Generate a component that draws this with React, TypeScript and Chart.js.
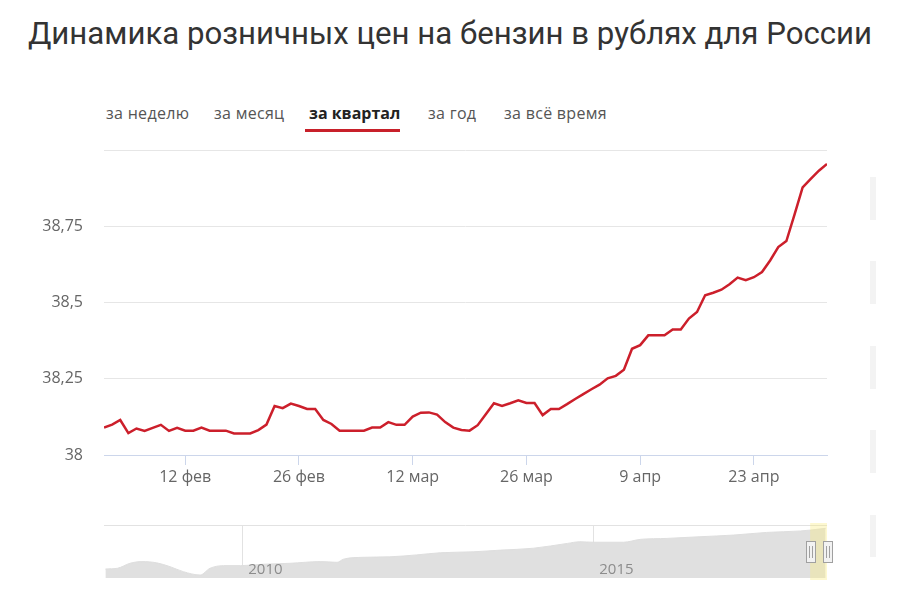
import React, { useEffect, useRef } from "react";
import { Chart, registerables } from "chart.js";

Chart.register(...registerables);

// ---- Main chart data (quarter: 2 Feb – 2 May) ----
// x = day offset from 12 February
const startDay = -10;
const prices = [
  38.09, 38.1, 38.115, 38.072, 38.087, 38.079, 38.089, 38.099, 38.079, 38.089,
  38.08, 38.08, 38.09, 38.08, 38.08, 38.08, 38.071, 38.071, 38.071, 38.082,
  38.1, 38.161, 38.154, 38.169, 38.161, 38.151, 38.151, 38.115, 38.102, 38.08,
  38.08, 38.08, 38.08, 38.09, 38.09, 38.108, 38.099, 38.099, 38.126, 38.139,
  38.14, 38.133, 38.108, 38.09, 38.082, 38.08, 38.098, 38.134, 38.17, 38.161,
  38.17, 38.18, 38.171, 38.171, 38.131, 38.151, 38.151, 38.167, 38.184, 38.2,
  38.216, 38.231, 38.252, 38.26, 38.28, 38.349, 38.361, 38.393, 38.393, 38.393,
  38.412, 38.412, 38.448, 38.47, 38.525, 38.533, 38.543, 38.561, 38.583, 38.574,
  38.584, 38.601, 38.639, 38.683, 38.703, 38.79, 38.879, 38.907, 38.934, 38.956,
];
const xMin = -10;
const xMax = 79;
const tickDays = [0, 14, 28, 42, 56, 70];
const tickLabels = ["12 фев", "26 фев", "12 мар", "26 мар", "9 апр", "23 апр"];
const yMin = 38;
const yMax = 39;
const yStep = 0.25;

// ---- Navigator data (all time) ----
const navYears = [
  2008.05, 2008.22, 2008.4, 2008.57, 2008.78, 2008.97, 2009.16, 2009.4, 2009.54,
  2009.73, 2009.97, 2010.3, 2010.68, 2011.11, 2011.35, 2011.44, 2011.72, 2012.1,
  2012.48, 2012.82, 2013.29, 2013.68, 2014.15, 2014.63, 2014.81, 2015.0, 2015.43,
  2015.67, 2016.05, 2016.52, 2017.0, 2017.47, 2017.95, 2018.1, 2018.31,
];
const navPrices = [
  22.0, 22.3, 24.4, 25.1, 24.6, 23.0, 20.9, 19.5, 22.3, 23.4, 23.4, 24.0, 24.4,
  25.1, 24.8, 26.1, 26.9, 27.1, 27.9, 28.8, 29.2, 29.9, 30.7, 32.7, 33.4, 33.2,
  33.2, 34.4, 34.8, 35.5, 36.2, 37.3, 37.9, 38.3, 39.0,
];
const navYearTicks = [2010, 2015];
const navMin = 2008.03;
const navMax = 2018.33;
const navYMin = 18.25;
const navYMax = 40.4;
const selStart = 2018.09;
const selEnd = 2018.33;

const tabs = [
  { label: "за неделю", left: 106, active: false },
  { label: "за месяц", left: 214, active: false },
  { label: "за квартал", left: 309, active: true },
  { label: "за год", left: 428, active: false },
  { label: "за всё время", left: 504, active: false },
];

const sideBars = [
  [177, 220],
  [261, 304],
  [346, 389],
  [430, 473],
  [515, 557],
];

const FONT = "'Open Sans', 'DejaVu Sans', sans-serif";

function MainChart() {
  const ref = useRef<HTMLCanvasElement | null>(null);
  useEffect(() => {
    if (!ref.current) return;
    const chart = new Chart(ref.current, {
      type: "line",
      data: {
        datasets: [
          {
            data: prices.map((v, i) => ({ x: startDay + i, y: v })),
            borderColor: "#cc1f2b",
            borderWidth: 2.5,
            pointRadius: 0,
            tension: 0,
            fill: false,
          },
        ],
      },
      options: {
        animation: false,
        responsive: false,
        layout: { padding: { top: 0, right: 73, left: 0, bottom: 0 } },
        plugins: {
          legend: { display: false },
          tooltip: { enabled: false },
          title: { display: false },
        },
        scales: {
          x: {
            type: "linear",
            min: xMin,
            max: xMax,
            afterFit: (s: any) => {
              s.height = 45;
            },
            afterBuildTicks: (s: any) => {
              s.ticks = tickDays.map((v) => ({ value: v }));
            },
            ticks: {
              autoSkip: false,
              maxRotation: 0,
              padding: 3,
              color: "#666",
              font: { family: FONT, size: 16 },
              callback: (v: any) => {
                const idx = tickDays.indexOf(Number(v));
                return idx >= 0 ? tickLabels[idx] : "";
              },
            },
            grid: {
              drawOnChartArea: false,
              drawTicks: true,
              tickLength: 10,
              color: "#ccd6eb",
            },
            border: { display: true, color: "#ccd6eb" },
          },
          y: {
            min: yMin,
            max: yMax,
            afterFit: (s: any) => {
              s.width = 104;
            },
            ticks: {
              stepSize: yStep,
              padding: 21,
              color: "#666",
              font: { family: FONT, size: 16 },
              callback: (v: any) =>
                Number(v) === yMax ? "" : String(Number(v)).replace(".", ","),
            },
            grid: {
              drawTicks: false,
              color: (c: any) =>
                c.tick && c.tick.value === yMin ? "rgba(0,0,0,0)" : "#e6e6e6",
            },
            border: { display: false },
          },
        },
      },
    });
    return () => chart.destroy();
  }, []);
  return (
    <canvas
      ref={ref}
      width={900}
      height={380}
      style={{ position: "absolute", left: 0, top: 120, width: 900, height: 380 }}
    />
  );
}

function Navigator() {
  const ref = useRef<HTMLCanvasElement | null>(null);
  useEffect(() => {
    if (!ref.current) return;
    const navPlugin = {
      id: "navDecor",
      beforeDatasetsDraw(chart: any) {
        const { ctx, chartArea, scales } = chart;
        ctx.save();
        ctx.strokeStyle = "#e2e2e2";
        ctx.lineWidth = 1;
        ctx.beginPath();
        ctx.moveTo(chartArea.left, chartArea.top + 0.5);
        ctx.lineTo(chartArea.right, chartArea.top + 0.5);
        ctx.stroke();
        navYearTicks.forEach((yr) => {
          const x = Math.round(scales.x.getPixelForValue(yr)) + 0.5;
          ctx.beginPath();
          ctx.moveTo(x, chartArea.top);
          ctx.lineTo(x, chartArea.bottom);
          ctx.stroke();
        });
        ctx.restore();
      },
      afterDatasetsDraw(chart: any) {
        const { ctx, chartArea, scales } = chart;
        ctx.save();
        ctx.fillStyle = "#8c8c8c";
        ctx.font = `15px ${FONT}`;
        ctx.textBaseline = "alphabetic";
        ctx.textAlign = "left";
        navYearTicks.forEach((yr) => {
          const x = scales.x.getPixelForValue(yr);
          ctx.fillText(String(yr), x + 6, chartArea.bottom - 4);
        });
        // selection
        const x1 = scales.x.getPixelForValue(selStart);
        const x2 = scales.x.getPixelForValue(selEnd);
        ctx.fillStyle = "rgba(250,236,120,0.35)";
        ctx.fillRect(x1, chartArea.top - 2, x2 - x1, chartArea.bottom - chartArea.top + 4);
        [x1, x2].forEach((hx) => {
          const w = 9;
          const h = 21;
          const top = chartArea.top + 16;
          const l = Math.round(hx - w / 2) + 0.5;
          ctx.fillStyle = "#f2f2f2";
          ctx.strokeStyle = "#a0a0a0";
          ctx.lineWidth = 1;
          ctx.fillRect(l, top + 0.5, w, h);
          ctx.strokeRect(l, top + 0.5, w, h);
          ctx.beginPath();
          ctx.moveTo(l + 3, top + 5);
          ctx.lineTo(l + 3, top + h - 4);
          ctx.moveTo(l + 6, top + 5);
          ctx.lineTo(l + 6, top + h - 4);
          ctx.stroke();
        });
        ctx.restore();
      },
    };
    const chart = new Chart(ref.current, {
      type: "line",
      data: {
        datasets: [
          {
            data: navYears.map((x, i) => ({ x, y: navPrices[i] })),
            borderColor: "#dedede",
            backgroundColor: "#e0e0e0",
            borderWidth: 1,
            pointRadius: 0,
            cubicInterpolationMode: "monotone",
            fill: "start",
          },
        ],
      },
      options: {
        animation: false,
        responsive: false,
        layout: { padding: { top: 10, right: 73, left: 104, bottom: 22 } },
        plugins: {
          legend: { display: false },
          tooltip: { enabled: false },
          title: { display: false },
        },
        scales: {
          x: { type: "linear", min: navMin, max: navMax, display: false },
          y: { min: navYMin, max: navYMax, display: false },
        },
      },
      plugins: [navPlugin],
    });
    return () => chart.destroy();
  }, []);
  return (
    <canvas
      ref={ref}
      width={900}
      height={85}
      style={{ position: "absolute", left: 0, top: 515, width: 900, height: 85 }}
    />
  );
}

export default function App() {
  return (
    <div
      style={{
        position: "fixed",
        left: 0,
        top: 0,
        width: 900,
        height: 600,
        background: "#fff",
        overflow: "hidden",
      }}
    >
      <div
        style={{
          position: "absolute",
          left: 0,
          top: 12,
          width: 900,
          textAlign: "center",
          fontFamily: "Roboto, 'Open Sans', sans-serif",
          fontSize: 31.2,
          lineHeight: "44px",
          color: "#333",
          whiteSpace: "nowrap",
        }}
      >
        Динамика розничных цен на бензин в рублях для России
      </div>
      {tabs.map((t) => (
        <div
          key={t.label}
          style={{
            position: "absolute",
            left: t.left,
            top: 102,
            fontFamily: FONT,
            fontSize: 16,
            lineHeight: "22px",
            letterSpacing: t.active ? 0 : "0.3px",
            color: t.active ? "#222" : "#555",
            fontWeight: t.active ? 700 : 400,
            whiteSpace: "nowrap",
          }}
        >
          {t.label}
        </div>
      ))}
      <div
        style={{
          position: "absolute",
          left: 305,
          top: 129,
          width: 95,
          height: 3,
          background: "#c8202a",
        }}
      />
      {sideBars.map(([a, b], i) => (
        <div
          key={i}
          style={{
            position: "absolute",
            left: 870,
            top: a,
            width: 6,
            height: b - a,
            background: "#f3f3f3",
          }}
        />
      ))}
      <MainChart />
      <Navigator />
    </div>
  );
}
